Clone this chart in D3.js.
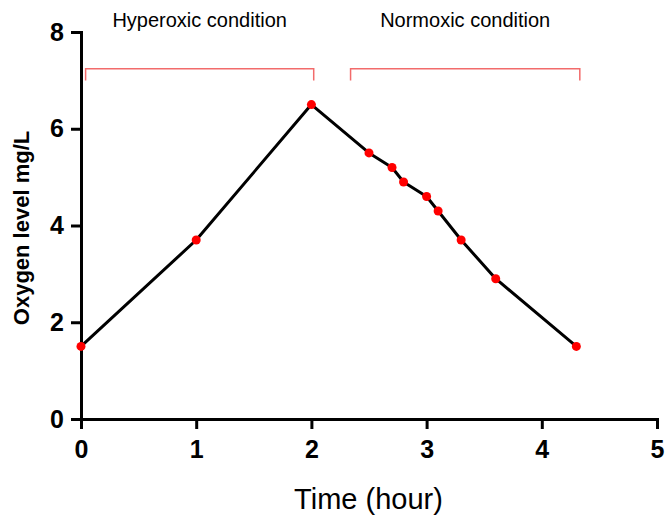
<!DOCTYPE html>
<html>
<head>
<meta charset="utf-8">
<script src="https://cdn.jsdelivr.net/npm/d3@7"></script>
<style>
  html, body { margin: 0; padding: 0; background: #fff; }
  svg { display: block; font-family: "Liberation Sans", Arial, Helvetica, sans-serif; }
</style>
</head>
<body>
<svg id="chart" width="667" height="519"></svg>
<script>
// ---- data ----
const timeHours = [0, 1, 2, 2.5, 2.7, 2.8, 3, 3.1, 3.3, 3.6, 4.3];
const oxygenLevels = [1.5, 3.7, 6.5, 5.5, 5.2, 4.9, 4.6, 4.3, 3.7, 2.9, 1.5];
const xTicks = [0, 1, 2, 3, 4, 5];
const yTicks = [0, 2, 4, 6, 8];
const conditionLabels = ["Hyperoxic condition", "Normoxic condition"];
const conditionStart = [0.04, 2.34];
const conditionEnd = [2.02, 4.33];
const bracketTop = 7.24;
const bracketBottom = 7.0;

// ---- layout ----
const svg = d3.select("#chart");
const x = d3.scaleLinear().domain([0, 5]).range([81, 657]);
const y = d3.scaleLinear().domain([0, 8]).range([419, 32]);

// axes
const xAxis = svg.append("g")
  .attr("transform", `translate(0,${y(0)})`)
  .call(d3.axisBottom(x).tickValues(xTicks).tickFormat(d3.format("d"))
        .tickSize(10).tickSizeOuter(0).tickPadding(11));
const yAxis = svg.append("g")
  .attr("transform", `translate(${x(0)},0)`)
  .call(d3.axisLeft(y).tickValues(yTicks).tickFormat(d3.format("d"))
        .tickSize(10).tickSizeOuter(0).tickPadding(7));

[xAxis, yAxis].forEach(g => {
  g.select(".domain").attr("stroke", "#000").attr("stroke-width", 3).attr("stroke-linecap", "square");
  g.selectAll(".tick line").attr("stroke", "#000").attr("stroke-width", 3);
  g.selectAll(".tick text").attr("fill", "#000")
    .style("font-size", "25px").style("font-weight", "bold")
    .style("font-family", "'Liberation Sans', Arial, sans-serif");
});

// brackets
const brackets = conditionLabels.map((l, i) => ({label: l, x0: conditionStart[i], x1: conditionEnd[i]}));
svg.append("g").selectAll("path").data(brackets).join("path")
  .attr("d", d => `M${x(d.x0)},${y(bracketBottom)}V${y(bracketTop)}H${x(d.x1)}V${y(bracketBottom)}`)
  .attr("fill", "none").attr("stroke", "#f26b6b").attr("stroke-width", 1.5);

svg.append("g").selectAll("text").data(brackets).join("text")
  .attr("x", d => x((d.x0 + d.x1) / 2))
  .attr("y", y(8) - 5)
  .attr("text-anchor", "middle")
  .style("font-size", "20px")
  .attr("fill", "#000")
  .text(d => d.label);

// line + points
const pts = timeHours.map((t, i) => ({t, v: oxygenLevels[i]}));
svg.append("path").datum(pts)
  .attr("d", d3.line().x(d => x(d.t)).y(d => y(d.v)))
  .attr("fill", "none").attr("stroke", "#000").attr("stroke-width", 3).attr("stroke-linejoin", "round");
svg.append("g").selectAll("circle").data(pts).join("circle")
  .attr("cx", d => x(d.t)).attr("cy", d => y(d.v)).attr("r", 4.5)
  .attr("fill", "#ff0000");

// axis titles
svg.append("text")
  .attr("x", (x(0) + x(5)) / 2 - 0.5)
  .attr("y", 509)
  .attr("text-anchor", "middle")
  .style("font-size", "29px")
  .text("Time (hour)");
svg.append("text")
  .attr("transform", `translate(29,228) rotate(-90)`)
  .attr("text-anchor", "middle")
  .style("font-size", "22px").style("font-weight", "bold")
  .text("Oxygen level mg/L");
</script>
</body>
</html>
